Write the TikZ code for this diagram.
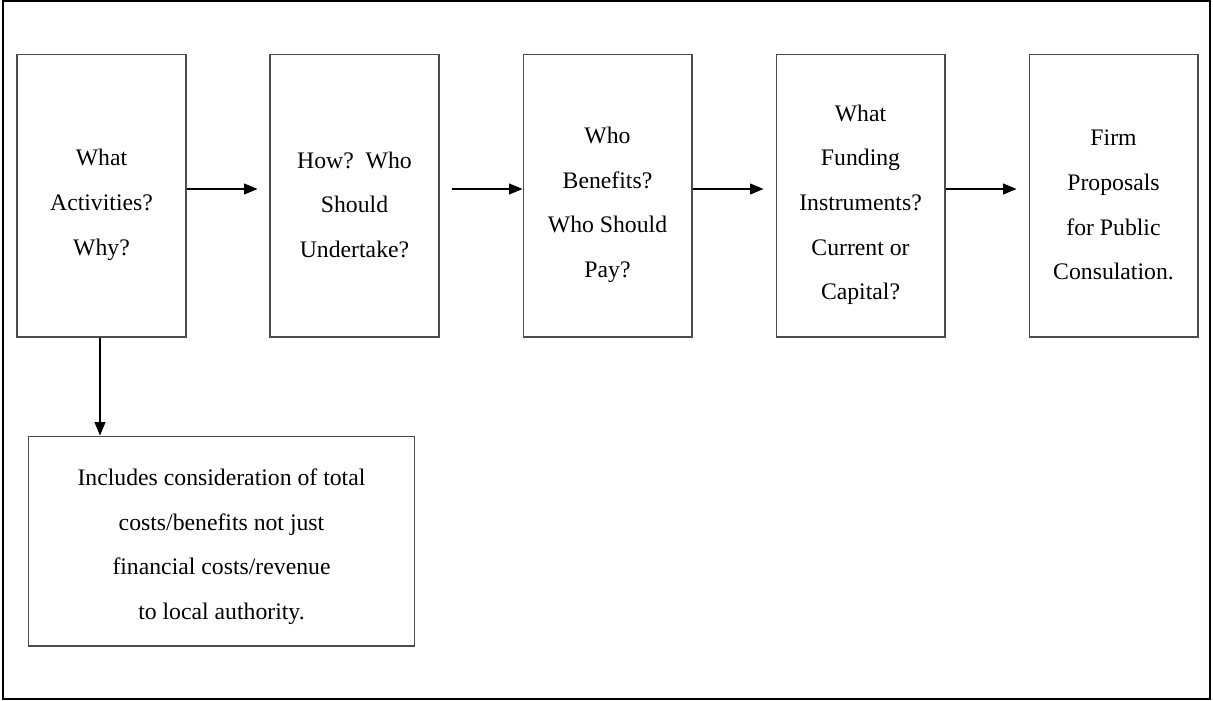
\documentclass[tikz,border=0pt]{standalone}
\usepackage{fontspec}
\setmainfont{Liberation Serif}
\usepackage{tikz}
\usetikzlibrary{arrows.meta,calc,positioning}
\newcommand{\topgap}[1]{\rule{0pt}{#1}}

\begin{document}
\begin{tikzpicture}[x=0.02cm,y=-0.02cm,
  stage/.style={draw=black!70,line width=0.6pt,inner sep=0pt,align=center,
    minimum width=3.38cm,minimum height=5.66cm,
    font=\fontsize{13.5}{25.4}\selectfont},
  flow/.style={-{Triangle[length=0.27cm,width=0.22cm]},line width=0.6pt}]
\useasboundingbox (0,0) rectangle (1213,700);
\draw[line width=0.9pt] (3,1) rectangle (1210,699);
\node[stage] (what) at (101.5,195.5) {\topgap{20pt}What\\Activities?\\Why?};
\node[stage,right=1.66cm of what] (how) {\topgap{20pt}How?~~Who\\Should\\Undertake?};
\node[stage,right=1.66cm of how] (pay) {\topgap{20pt}Who\\Benefits?\\Who Should\\Pay?};
\node[stage,right=1.66cm of pay] (fund) {\topgap{20pt}What\\Funding\\Instruments?\\Current or\\Capital?};
\node[stage,right=1.66cm of fund] (firm) {\topgap{20pt}Firm\\Proposals\\for Public\\Consulation.};
\node[stage,minimum width=7.74cm,minimum height=4.2cm] (total) at (221.5,541)
  {\topgap{16pt}Includes consideration of total\\costs/benefits not just\\financial costs/revenue\\to local authority.};
% flow of the stages
\draw[flow] ([yshift=0.13cm]what.east) -- ([yshift=0.13cm,xshift=-0.24cm]how.west);
\draw[flow] ([yshift=0.13cm,xshift=0.24cm]how.east) -- ([yshift=0.13cm]pay.west);
\draw[flow] ([yshift=0.13cm]pay.east) -- ([yshift=0.13cm,xshift=-0.24cm]fund.west);
\draw[flow] ([yshift=0.13cm]fund.east) -- ([yshift=0.13cm,xshift=-0.24cm]firm.west);
\draw[flow] ([xshift=-0.03cm]what.south) -- ([xshift=-0.03cm]what.south |- total.north);
\end{tikzpicture}
\end{document}
